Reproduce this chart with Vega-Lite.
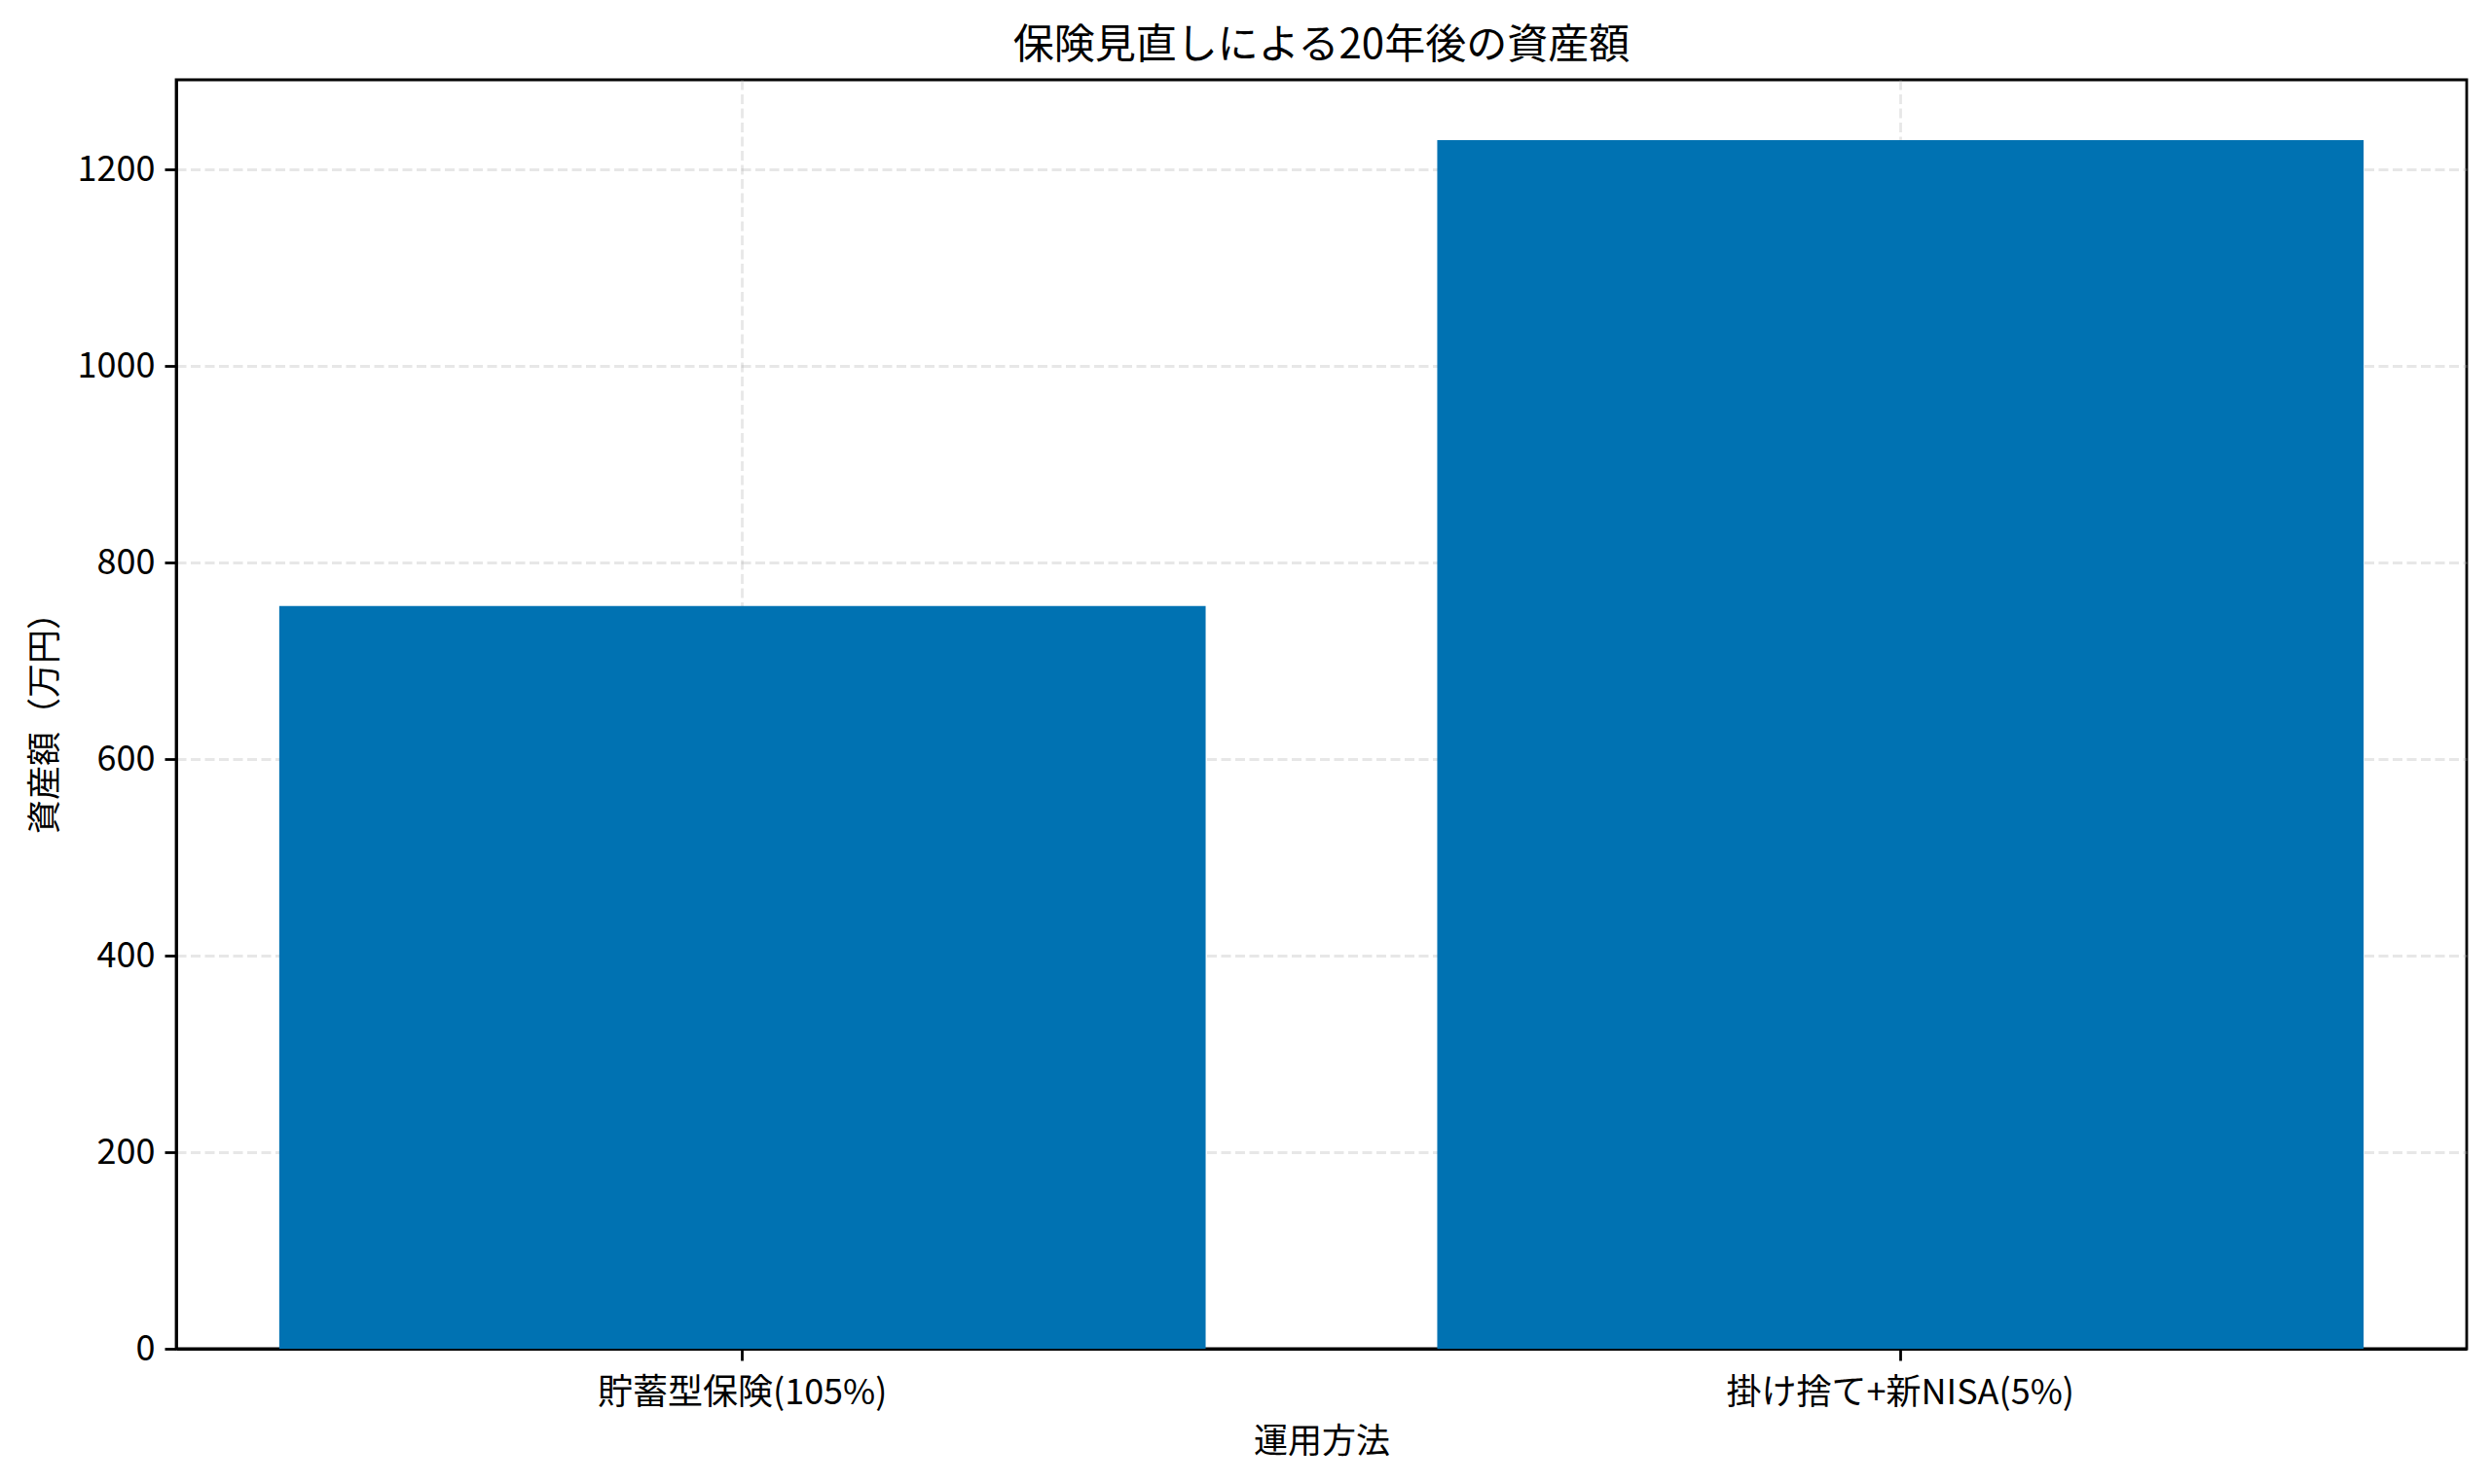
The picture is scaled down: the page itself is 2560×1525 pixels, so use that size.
{
  "$schema": "https://vega.github.io/schema/vega-lite/v6.json",
  "description": "保険見直しによる20年後の資産額",
  "autosize": {"type": "none"},
  "width": 2353,
  "height": 1304,
  "padding": {"left": 181, "top": 82, "right": 26, "bottom": 139},
  "background": "white",
  "title": {
    "text": "保険見直しによる20年後の資産額",
    "font": "Noto Sans CJK JP",
    "fontSize": 42,
    "fontWeight": "normal",
    "color": "black",
    "anchor": "middle",
    "offset": 13
  },
  "data": {
    "values": [
      {"method": "貯蓄型保険(105%)", "amount": 756},
      {"method": "掛け捨て+新NISA(5%)", "amount": 1230}
    ]
  },
  "mark": {"type": "bar", "color": "#0072B2"},
  "encoding": {
    "x": {
      "field": "method",
      "type": "nominal",
      "sort": null,
      "scale": {"paddingInner": 0.2, "paddingOuter": 0.089},
      "axis": {
        "title": "運用方法",
        "labelAngle": 0,
        "labelLimit": 0,
        "labelPadding": 16,
        "titlePadding": 15,
        "bandPosition": 0.5,
        "grid": true
      }
    },
    "y": {
      "field": "amount",
      "type": "quantitative",
      "scale": {"domain": [0, 1291.5], "nice": false, "zero": true},
      "axis": {
        "title": "資産額（万円）",
        "format": "d",
        "values": [0, 200, 400, 600, 800, 1000, 1200],
        "grid": true
      }
    }
  },
  "config": {
    "font": "Noto Sans CJK JP",
    "view": {"stroke": "black", "strokeWidth": 2.8},
    "axis": {
      "zindex": 1,
      "labelFont": "Noto Sans CJK JP",
      "titleFont": "Noto Sans CJK JP",
      "labelFontSize": 36,
      "titleFontSize": 35,
      "titleFontWeight": "normal",
      "labelColor": "black",
      "titleColor": "black",
      "domainColor": "black",
      "domainWidth": 2.8,
      "tickColor": "black",
      "tickWidth": 2.8,
      "tickSize": 12,
      "labelPadding": 10,
      "gridColor": "#b0b0b0",
      "gridOpacity": 0.3,
      "gridWidth": 2.8,
      "gridDash": [10, 4.5]
    },
    "axisY": {"titlePadding": 15}
  }
}
